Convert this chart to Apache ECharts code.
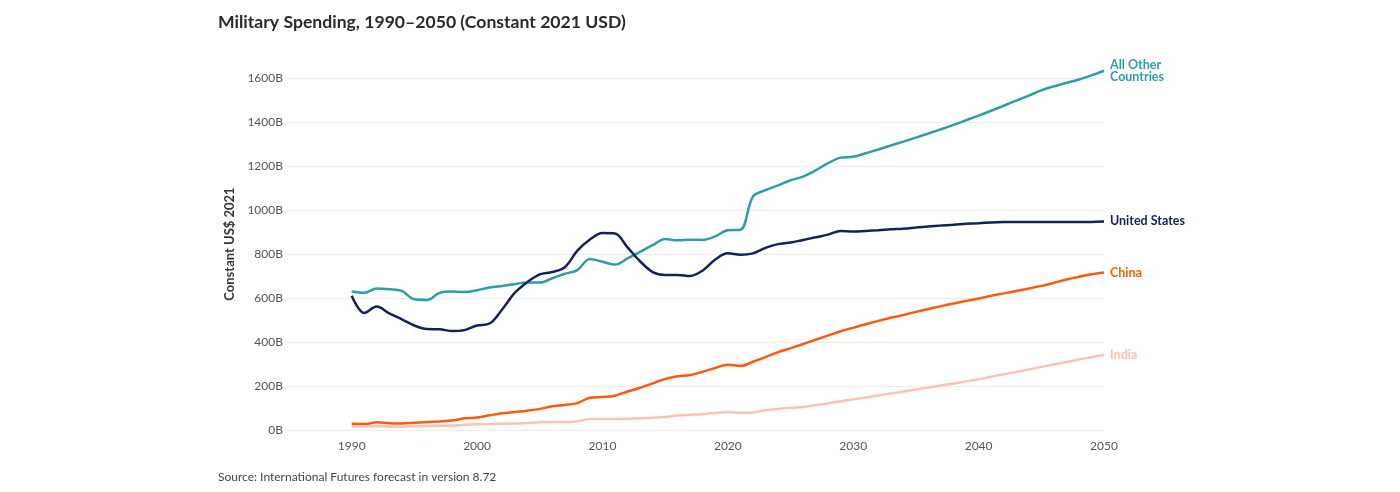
<!DOCTYPE html>
<html>
<head>
<meta charset="utf-8">
<script src="https://cdn.jsdelivr.net/npm/echarts@6/dist/echarts.min.js"></script>
<style>
  html, body { margin: 0; padding: 0; background: #fff; }
  #chart { width: 1400px; height: 492px; }
</style>
</head>
<body>
<div id="chart"></div>
<script>
// years 1990..2050
const years = [];
for (let y = 1990; y <= 2050; y++) years.push(y);

// values in billions of constant 2021 USD
const allOther = [630, 624, 643, 640, 632, 594, 591, 623, 629, 627,
  635, 648, 655, 663, 671, 670, 690, 710, 727, 777,
  765, 752, 780, 810, 840, 868, 862, 865, 864, 880,
  908, 910, 1061, 1090, 1112, 1135, 1152, 1180, 1213, 1238,
  1242, 1258, 1275, 1293, 1311, 1329, 1348, 1367, 1387, 1408,
  1429, 1451, 1474, 1497, 1520, 1544, 1562, 1578, 1593, 1612, 1633];

const unitedStates = [610, 532, 561, 530, 503, 475, 459, 458, 450, 454,
  475, 484, 548, 623, 672, 707, 718, 740, 815, 866,
  895, 893, 830, 767, 718, 705, 705, 700, 725, 775,
  803, 797, 803, 828, 845, 852, 864, 876, 888, 905,
  902, 905, 908, 912, 915, 920, 925, 929, 933, 937,
  940, 943, 945, 946, 946, 946, 945, 945, 945, 946, 948];

const china = [28, 27, 35, 31, 30, 33, 36, 39, 43, 53,
  57, 67, 76, 82, 88, 96, 108, 114, 122, 147,
  150, 156, 175, 192, 212, 232, 244, 250, 265, 282,
  297, 291, 310, 331, 354, 372, 391, 410, 430, 449,
  465, 481, 496, 510, 523, 537, 550, 563, 575, 587,
  598, 610, 621, 632, 643, 655, 669, 684, 697, 708, 716];

const india = [16, 16, 17, 16, 16, 17, 18, 19, 20, 24,
  26, 27, 28, 29, 32, 35, 36, 36, 40, 50,
  50, 50, 51, 53, 56, 59, 66, 69, 72, 78,
  81, 78, 80, 90, 96, 101, 105, 112, 121, 131,
  140, 148, 157, 166, 175, 184, 193, 202, 211, 221,
  231, 242, 253, 264, 275, 287, 298, 309, 320, 331, 341];

const seriesNames = ['All Other\nCountries', 'United States', 'China', 'India'];
const seriesColors = ['#2b9ea8', '#14215b', '#fd5a0c', '#ffc1b6'];
const seriesValues = [allOther, unitedStates, china, india];

const FONT = 'Lato, "Noto Sans", sans-serif';

const chart = echarts.init(document.getElementById('chart'));

const series = seriesValues.map((vals, i) => ({
  name: seriesNames[i],
  type: 'line',
  data: vals.map((v, k) => [years[k], v]),
  smooth: 0.35,
  symbol: 'none',
  clip: false,
  lineStyle: { color: seriesColors[i], width: 2.5 },
  itemStyle: { color: seriesColors[i] },
  emphasis: { disabled: true },
  endLabel: {
    show: true,
    formatter: '{a}',
    distance: 6,
    color: seriesColors[i],
    fontFamily: FONT,
    fontWeight: 'bold',
    fontSize: 12.5,
    lineHeight: 11.5
  }
}));

chart.setOption({
  animation: false,
  title: {
    text: 'Military Spending, 1990–2050 (Constant 2021 USD)',
    left: 213,
    top: 8,
    textStyle: { fontFamily: FONT, fontSize: 17.6, fontWeight: 'bold', color: '#2b2b2b' }
  },
  graphic: [{
    type: 'text',
    left: 218,
    top: 471,
    style: {
      text: 'Source: International Futures forecast in version 8.72',
      font: '12px ' + FONT,
      fill: '#444'
    }
  }],
  grid: { left: 289, right: 296, top: 78, bottom: 62 },
  xAxis: {
    type: 'value',
    min: 1985,
    max: 2050,
    interval: 5,
    axisLine: { show: false },
    axisTick: { show: false },
    splitLine: { show: false },
    axisLabel: {
      formatter: v => (v % 10 === 0 ? String(v) : ''),
      color: '#555',
      fontFamily: FONT,
      fontSize: 12,
      margin: 10
    }
  },
  yAxis: {
    type: 'value',
    min: 0,
    max: 1600,
    interval: 200,
    name: 'Constant US$ 2021',
    nameLocation: 'middle',
    nameGap: 41,
    nameTextStyle: {
      fontFamily: FONT, fontSize: 13, fontWeight: 'bold', color: '#333',
      padding: [0, 0, 0, 20]
    },
    axisLine: { show: false },
    axisTick: { show: false },
    splitLine: { lineStyle: { color: '#ececec', width: 1 } },
    axisLabel: {
      formatter: v => v + 'B',
      color: '#555',
      fontFamily: FONT,
      fontSize: 12,
      margin: 6
    }
  },
  series: series
});
</script>
</body>
</html>
